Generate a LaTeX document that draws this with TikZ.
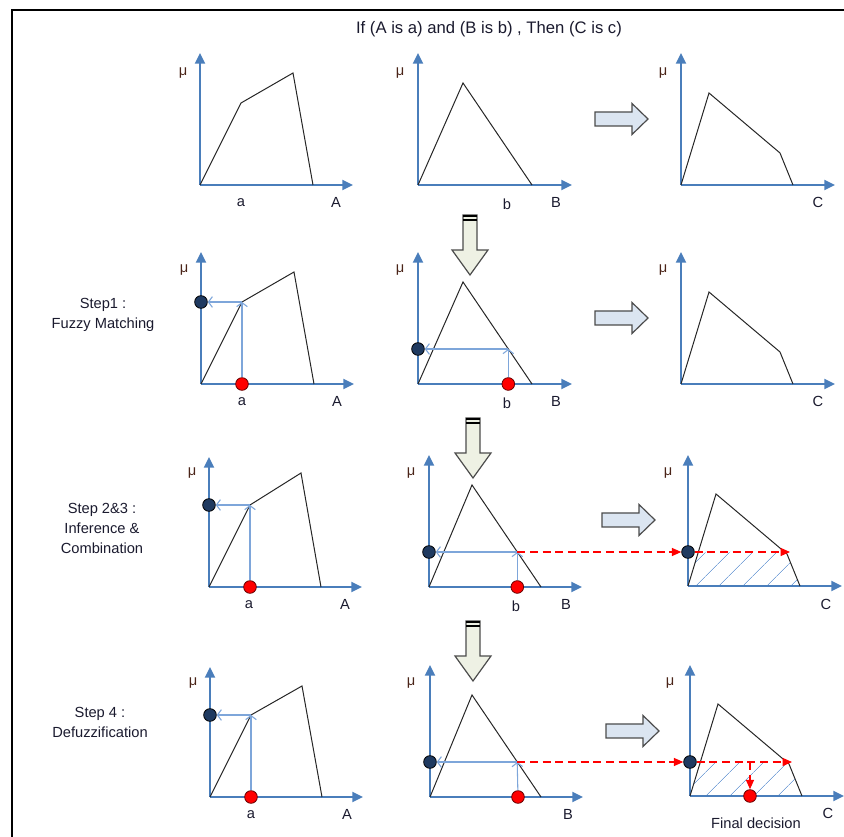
\documentclass[tikz,border=0pt]{standalone}
\usepackage{fontspec}
\setmainfont{Liberation Sans}
\usetikzlibrary{arrows.meta,patterns.meta}
\definecolor{axisblue}{HTML}{4A7EBB}
\definecolor{projblue}{HTML}{7EA6DA}
\definecolor{dotblue}{HTML}{1F3A60}
\definecolor{rarrfill}{HTML}{DBE5F1}
\definecolor{darrfill}{HTML}{EEF1E4}
\definecolor{txt}{HTML}{1A1A2E}
\definecolor{mucol}{HTML}{4A2418}
\tikzset{
 axis/.style={draw=axisblue, line width=1.4pt, -{Triangle[length=8pt,width=7.5pt]}},
 mf/.style={draw=black!85, line width=0.75pt},
 proj/.style={draw=projblue, line width=0.8pt, -{Straight Barb[length=3pt,width=8pt]}},
 reddash/.style={draw=red, line width=0.9pt, dash pattern=on 6pt off 3.5pt, -{Triangle[length=7pt,width=6pt]}},
 bdot/.style={circle, fill=dotblue, draw=black, line width=0.6pt, inner sep=0pt, minimum size=9.5pt},
 rdot/.style={circle, fill=red, draw=black!60!red, line width=0.6pt, inner sep=0pt, minimum size=9.5pt},
 lab/.style={font=\fontsize{11}{15}\selectfont, text=txt},
 mu/.style={font=\fontsize{11}{12}\selectfont, text=mucol},
 rarrow/.style={fill=rarrfill, draw=black!70, line width=0.9pt},
 darrow/.style={fill=darrfill, draw=black!70, line width=0.9pt},
 hatch/.style={pattern={Lines[angle=45,distance=13pt,line width=0.5pt]}, pattern color=projblue},
 rarr/.pic={\path[rarrow] (-37,-7) -- (0,-7) -- (0,-15.5) -- (16,0) -- (0,15.5) -- (0,7) -- (-37,7) -- cycle;},
 darr/.pic={\path[darrow] (-7,-35) -- (-7,0) -- (-18,0) -- (0,25) -- (18,0) -- (7,0) -- (7,-35) -- cycle;
   \draw[line width=1.8pt] (-7,-34) -- (7,-34);
   \draw[line width=0.8pt] (-7,-30) -- (7,-30);}
}
\begin{document}
\begin{tikzpicture}[x=0.75pt,y=-0.75pt]
\useasboundingbox (0,0) rectangle (844,837);
\draw[line width=2.2pt] (12,837) -- (12,10) -- (844,10);
\node[lab, font=\fontsize{12.5}{15}\selectfont] (title) at (489,29) {If (A is a) and (B is b) , Then (C is c)};

% step labels
\node[lab, align=center] (s1) at (103,315) {Step1 :\\Fuzzy Matching};
\node[lab, align=center] (s2) at (102,528) {Step 2\&3 :\\Inference \&\\Combination};
\node[lab, align=center] (s4) at (100,722) {Step 4 :\\Defuzzification};

% ---------- Row 1 ----------
\begin{scope}[shift={(200,185)}]
\coordinate (a1o) at (0,0);
\draw[axis] (a1o) -- (0,-132);
\draw[axis] (a1o) -- (153,0);
\draw[mf] (a1o) -- (41,-82) -- (93,-112) -- (113,0);
\node[mu] (a1mu) at (-17,-112) {μ};
\node[lab] (a1x) at (41,18) {a};
\node[lab] (a1X) at (136,17) {A};
\end{scope}
\begin{scope}[shift={(418,185)}]
\coordinate (b1o) at (0,0);
\draw[axis] (b1o) -- (0,-132);
\draw[axis] (b1o) -- (154,0);
\draw[mf] (b1o) -- (45,-102) -- (114,0);
\node[mu] (b1mu) at (-18,-112) {μ};
\node[lab] (b1x) at (89,19) {b};
\node[lab] (b1X) at (138,17) {B};
\end{scope}
\begin{scope}[shift={(681,185)}]
\coordinate (c1o) at (0,0);
\draw[axis] (c1o) -- (0,-132);
\draw[axis] (c1o) -- (154,0);
\draw[mf] (c1o) -- (28,-92) -- (99,-32) -- (112,0);
\node[mu] (c1mu) at (-18,-112) {μ};
\node[lab] (c1X) at (137,17) {C};
\end{scope}
\pic (ra1) at (632,119) {rarr};
\pic (da1) at (470,250) {darr};

% ---------- Row 2 ----------
\begin{scope}[shift={(201,384)}]
\coordinate (a2o) at (0,0);
\draw[axis] (a2o) -- (0,-132);
\draw[axis] (a2o) -- (153,0);
\draw[mf] (a2o) -- (41,-82) -- (93,-112) -- (113,0);
\coordinate (a2i) at (41,-82);
\node[rdot] (a2r) at (41,0) {};
\node[bdot] (a2b) at (0,-82) {};
\draw[proj] (a2r) -- (a2i);
\draw[proj] (a2i) -- (a2b);
\node[mu] (a2mu) at (-17,-114) {μ};
\node[lab] (a2x) at (41,18) {a};
\node[lab] (a2X) at (136,17) {A};
\end{scope}
\begin{scope}[shift={(418,384)}]
\coordinate (b2o) at (0,0);
\draw[axis] (b2o) -- (0,-132);
\draw[axis] (b2o) -- (154,0);
\draw[mf] (b2o) -- (45,-102) -- (114,0);
\coordinate (b2i) at (90.3,-35);
\node[rdot] (b2r) at (90.3,0) {};
\node[bdot] (b2b) at (0,-35) {};
\draw[proj] (b2r) -- (b2i);
\draw[proj] (b2i) -- (b2b);
\node[mu] (b2mu) at (-18,-114) {μ};
\node[lab] (b2x) at (89,19) {b};
\node[lab] (b2X) at (138,17) {B};
\end{scope}
\begin{scope}[shift={(681,384)}]
\coordinate (c2o) at (0,0);
\draw[axis] (c2o) -- (0,-132);
\draw[axis] (c2o) -- (154,0);
\draw[mf] (c2o) -- (28,-92) -- (99,-32) -- (112,0);
\node[mu] (c2mu) at (-18,-114) {μ};
\node[lab] (c2X) at (137,17) {C};
\end{scope}
\pic (ra2) at (632,318) {rarr};
\pic (da2) at (473,453) {darr};

% ---------- Row 3 ----------
\begin{scope}[shift={(209,587)}]
\coordinate (a3o) at (0,0);
\draw[axis] (a3o) -- (0,-130);
\draw[axis] (a3o) -- (153,0);
\draw[mf] (a3o) -- (41,-82) -- (92,-114) -- (112,0);
\coordinate (a3i) at (41,-82);
\node[rdot] (a3r) at (41,0) {};
\node[bdot] (a3b) at (0,-82) {};
\draw[proj] (a3r) -- (a3i);
\draw[proj] (a3i) -- (a3b);
\node[mu] (a3mu) at (-17,-114) {μ};
\node[lab] (a3x) at (40,18) {a};
\node[lab] (a3X) at (136,17) {A};
\end{scope}
\begin{scope}[shift={(429,587)}]
\coordinate (b3o) at (0,0);
\draw[axis] (b3o) -- (0,-132);
\draw[axis] (b3o) -- (153,0);
\draw[mf] (b3o) -- (43,-102) -- (112,0);
\coordinate (b3i) at (88.3,-35);
\node[rdot] (b3r) at (88.3,0) {};
\node[bdot] (b3b) at (0,-35) {};
\draw[proj] (b3r) -- (b3i);
\draw[proj] (b3i) -- (b3b);
\node[mu] (b3mu) at (-18,-114) {μ};
\node[lab] (b3x) at (87,19) {b};
\node[lab] (b3X) at (137,17) {B};
\end{scope}
\begin{scope}[shift={(688,586)}]
\coordinate (c3o) at (0,0);
\path[hatch] (0,0) -- (10.3,-34) -- (96.6,-34) -- (99,-32) -- (112,0) -- cycle;
\draw[axis] (c3o) -- (0,-131);
\draw[axis] (c3o) -- (154,0);
\draw[mf] (c3o) -- (28,-92) -- (99,-32) -- (112,0);
\node[bdot] (c3b) at (0,-34) {};
\coordinate (c3e) at (102,-34);
\node[mu] (c3mu) at (-20,-113) {μ};
\node[lab] (c3X) at (138,18) {C};
\end{scope}
\draw[reddash] (b3i) -- (c3b.west);
\draw[reddash] (c3b.east) -- (c3e);
\pic (ra3) at (639,520) {rarr};
\pic (da3) at (473,656) {darr};

% ---------- Row 4 ----------
\begin{scope}[shift={(210,797)}]
\coordinate (a4o) at (0,0);
\draw[axis] (a4o) -- (0,-130);
\draw[axis] (a4o) -- (153,0);
\draw[mf] (a4o) -- (41,-82) -- (92,-111) -- (112,0);
\coordinate (a4i) at (41,-82);
\node[rdot] (a4r) at (41,0) {};
\node[bdot] (a4b) at (0,-82) {};
\draw[proj] (a4r) -- (a4i);
\draw[proj] (a4i) -- (a4b);
\node[mu] (a4mu) at (-17,-114) {μ};
\node[lab] (a4x) at (41,18) {a};
\node[lab] (a4X) at (137,17) {A};
\end{scope}
\begin{scope}[shift={(430,797)}]
\coordinate (b4o) at (0,0);
\draw[axis] (b4o) -- (0,-132);
\draw[axis] (b4o) -- (153,0);
\draw[mf] (b4o) -- (42,-102) -- (111,0);
\coordinate (b4i) at (87.2,-35);
\node[rdot] (b4r) at (88,0) {};
\node[bdot] (b4b) at (0,-35) {};
\draw[proj] (b4r) -- (b4i);
\draw[proj] (b4i) -- (b4b);
\node[mu] (b4mu) at (-19,-114) {μ};
\node[lab] (b4X) at (138,17) {B};
\end{scope}
\begin{scope}[shift={(690,796)}]
\coordinate (c4o) at (0,0);
\path[hatch] (0,0) -- (10.3,-34) -- (96.6,-34) -- (99,-32) -- (112,0) -- cycle;
\draw[axis] (c4o) -- (0,-131);
\draw[axis] (c4o) -- (154,0);
\draw[mf] (c4o) -- (28,-92) -- (99,-32) -- (112,0);
\node[bdot] (c4b) at (0,-34) {};
\coordinate (c4e) at (102,-34);
\coordinate (c4t) at (60,-34);
\node[rdot] (c4r) at (60,0) {};
\node[mu] (c4mu) at (-20,-113) {μ};
\node[lab] (c4X) at (138,17) {C};
\node[lab] (c4f) at (66,27) {Final decision};
\end{scope}
\draw[reddash] (b4i) -- (c4b.west);
\draw[reddash] (c4b.east) -- (c4e);
\draw[reddash] (c4t) -- (c4r.north);
\pic (ra4) at (643,731) {rarr};
\end{tikzpicture}
\end{document}
